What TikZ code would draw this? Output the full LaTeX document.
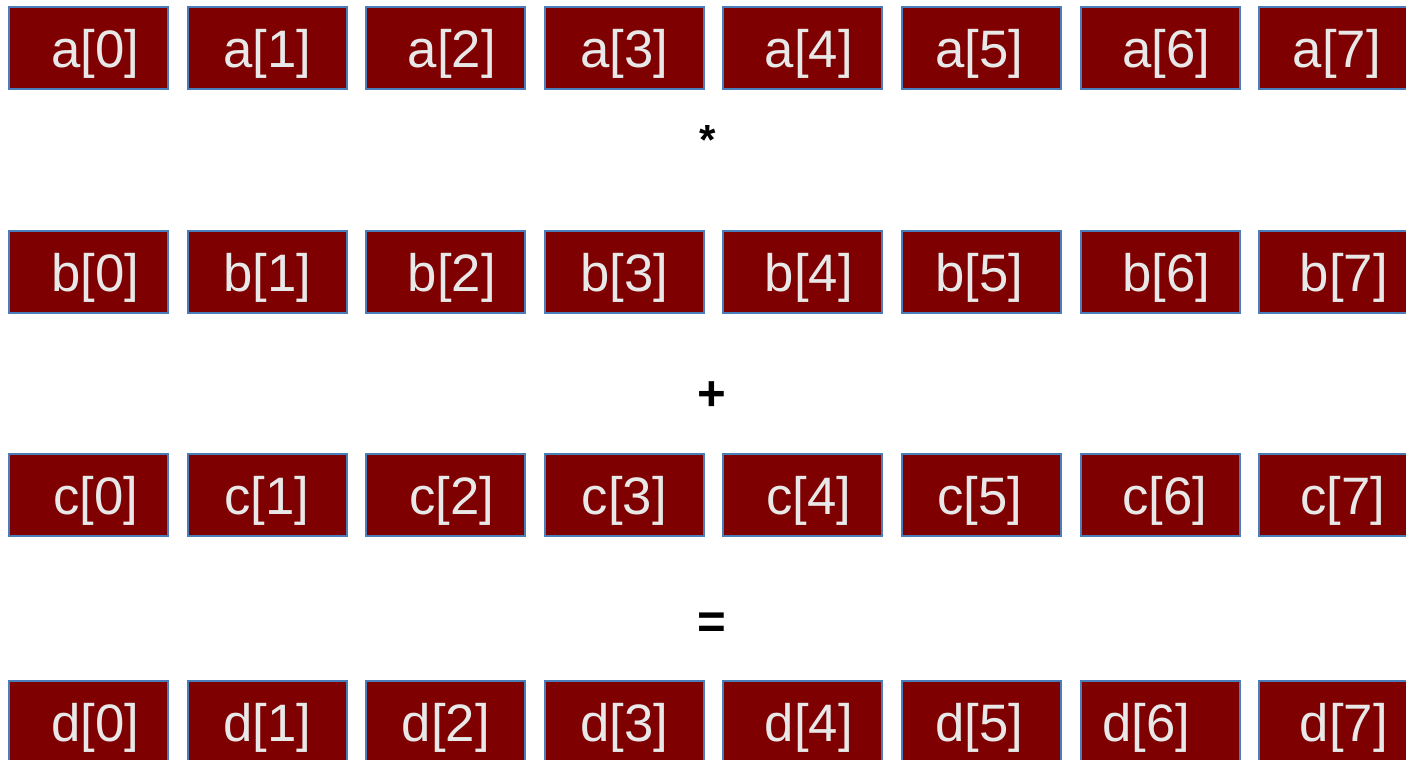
\documentclass[tikz,border=0pt]{standalone}
\usepackage{fontspec}
\usepackage{tikz}
\usepackage{xcolor}
\setmainfont{Liberation Sans}
\usetikzlibrary{positioning,calc}
\definecolor{cellred}{HTML}{7F0000}
\definecolor{cellblue}{HTML}{4A7EBB}
\definecolor{celltext}{HTML}{E8E8E8}

\begin{document}
\begin{tikzpicture}[x=0.02cm, y=-0.02cm,
    cell/.style={draw=cellblue, fill=cellred, line width=1.2pt,
                 minimum width=3.18cm, minimum height=1.64cm, inner sep=0pt},
    val/.style={text=celltext, inner sep=0pt, font=\fontsize{30}{30}\selectfont},
    op/.style={inner sep=0pt, font=\bfseries\fontsize{28}{28}\selectfont}
]
  \useasboundingbox (0,0) rectangle (1406,760);
  \clip (0,0) rectangle (1406,760);

  % Vector rows a, b, c, d
  \foreach \row/\y/\offs in {a/48/{7,0,6,0,6,-2,6,-2},
                             b/272/{7,0,6,0,6,-2,6,5},
                             c/495/{7,0,6,0,6,-2,5,4},
                             d/722/{7,0,0,0,6,-2,-14,5}}{
    \foreach \dx [count=\c from 0] in \offs {
      \node[cell] (\row\c) at ({88.5+178.6*\c},\y) {};
      \node[val] (v\row\c) at ($(\row\c)+(\dx,6)$) {\row[\c]};
    }
  }

  % Operators between rows
  \node[op, font=\bfseries\fontsize{24}{24}\selectfont] (times) at (707.5,140) {*};
  \node[op] (plus)   at (711.5,396) {+};
  \node[op] (equals) at (711.5,626) {=};
\end{tikzpicture}
\end{document}
